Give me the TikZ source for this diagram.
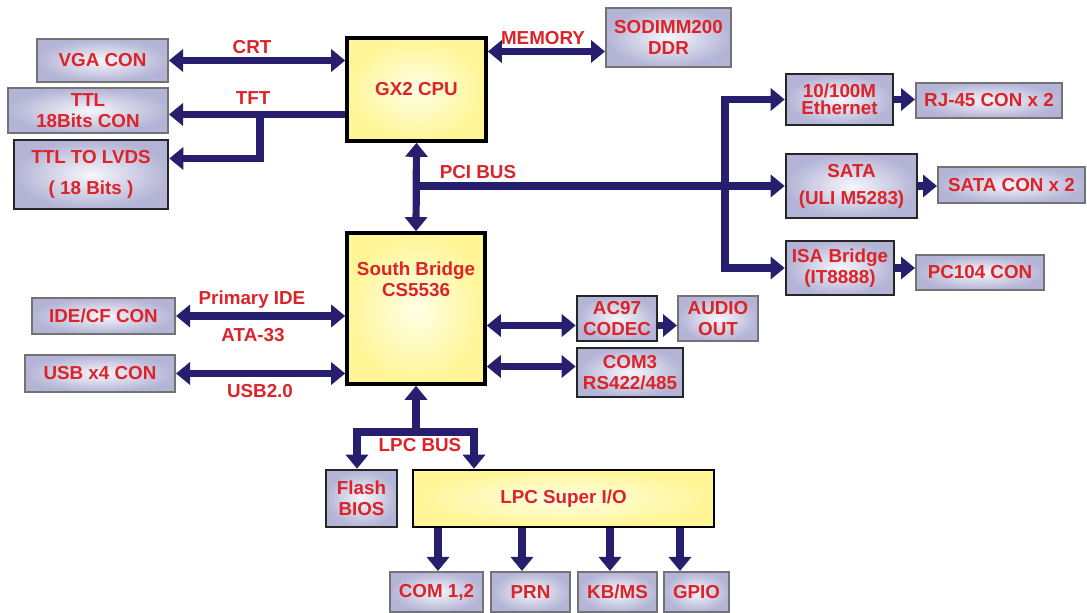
\documentclass[tikz,border=0pt]{standalone}
\usepackage{fontspec}
\setmainfont{Liberation Sans}
\usetikzlibrary{positioning,arrows.meta}
\definecolor{busblue}{RGB}{40,30,110}
\definecolor{txtred}{RGB}{220,35,40}
\definecolor{lav}{RGB}{180,180,214}
\definecolor{lavlight}{RGB}{246,246,252}
\definecolor{chipyel}{RGB}{255,245,150}
\definecolor{chiplight}{RGB}{255,255,230}
\tikzset{
  con/.style={draw=black!55,line width=1pt,inner color=lavlight,outer color=lav,inner sep=0pt,align=center,text=txtred},
  dev/.style={con,draw=black!85,line width=1.3pt},
  chip/.style={draw=black,line width=1.8pt,inner color=chiplight,outer color=chipyel,inner sep=0pt,align=center,text=txtred},
  bus/.style={draw=busblue,line width=3.6pt},
  lbl/.style={text=txtred,inner sep=1pt,align=center},
}
\begin{document}
\begin{tikzpicture}[x=0.5pt,y=-0.5pt,>={Triangle[width=11pt,length=7pt]},
   font=\fontsize{9.4}{10.5}\selectfont\bfseries]
  \useasboundingbox (0,0) rectangle (1087,613);
  % north side
  \node[chip,minimum width=69.5pt,minimum height=51.5pt] (cpu) at (416.5,89.5) {GX2 CPU};
  \node[con,minimum width=62.5pt,minimum height=29.5pt] (sodimm) at (668.5,37.5) {SODIMM200\\DDR};
  \node[con,minimum width=65.5pt,minimum height=21.5pt] (vga) at (102.5,60.5) {VGA CON};
  \node[con,minimum width=80pt,minimum height=22.5pt] (ttl) at (88,110.5) {TTL\\18Bits CON};
  \node[dev,minimum width=77pt,minimum height=34.5pt] (lvds) at (91,174.5) {TTL TO LVDS\\[5pt]( 18 Bits )};
  % south bridge
  \node[chip,minimum width=69pt,minimum height=75.5pt] (sb) at (416,308.5) {};
  \node[lbl,below=14pt of sb.north] (sbtxt) {South Bridge\\CS5536};
  \node[con,minimum width=71.5pt,minimum height=18pt] (ide) at (103.5,316) {IDE/CF CON};
  \node[con,minimum width=75pt,minimum height=18.5pt] (usb) at (100,373.5) {USB x4 CON};
  \node[dev,minimum width=40pt,minimum height=22.5pt] (ac97) at (617,318.5) {AC97\\CODEC};
  \node[con,minimum width=40pt,minimum height=22.5pt] (audio) at (718,318.5) {AUDIO\\OUT};
  \node[dev,minimum width=53pt,minimum height=24.5pt] (com3) at (630,372.5) {COM3\\RS422/485};
  % pci devices
  \node[dev,minimum width=53.5pt,minimum height=25.5pt] (eth) at (839.5,99.5) {10/100M\\[-2pt]Ethernet};
  \node[con,minimum width=73pt,minimum height=17.5pt] (rj) at (989,100.5) {RJ-45 CON x 2};
  \node[dev,minimum width=65.5pt,minimum height=32pt] (sata) at (851.5,186) {SATA\\[3pt](ULI M5283)};
  \node[con,minimum width=73.5pt,minimum height=18pt] (satacon) at (1011.5,185) {SATA CON x 2};
  \node[dev,minimum width=54pt,minimum height=27pt] (isa) at (840,268) {ISA Bridge\\(IT8888)};
  \node[con,minimum width=64pt,minimum height=17.5pt] (pc104) at (980,272.5) {PC104 CON};
  % lpc
  \node[dev,minimum width=35.5pt,minimum height=28.5pt] (flash) at (361.5,498.5) {Flash\\BIOS};
  \node[chip,line width=1.3pt,minimum width=150.5pt,minimum height=28.5pt] (sio) at (563.5,498.5) {LPC Super I/O};
  \node[con,minimum width=46.5pt,minimum height=20pt] (com12) at (436.5,592) {COM 1,2};
  \node[con,minimum width=39.5pt,minimum height=20pt] (prn) at (530.5,592) {PRN};
  \node[con,minimum width=39.5pt,minimum height=20pt] (kbms) at (617.5,592) {KB/MS};
  \node[con,minimum width=32.5pt,minimum height=20pt] (gpio) at (696.5,592) {GPIO};
  % bus labels
  \node[lbl] (crt) at (252,47) {CRT};
  \node[lbl] (tft) at (253,98) {TFT};
  \node[lbl] (memory) at (543,38) {MEMORY};
  \node[lbl] (pci) at (478,172) {PCI BUS};
  \node[lbl] (pide) at (252,300) {Primary IDE};
  \node[lbl] (ata) at (253,335) {ATA-33};
  \node[lbl] (usb20) at (260,391) {USB2.0};
  \node[lbl] (lpc) at (420,445) {LPC BUS};
  % connectors
  \draw[bus,<->] (vga.east) -- (vga.east -| cpu.west);
  \coordinate (tftj) at (260,114.5);
  \draw[bus,->] (tftj -| cpu.west) -- (tftj -| ttl.east);
  \draw[bus,->] (tftj) |- ([yshift=8pt]lvds.east);
  \coordinate (mem) at ([yshift=-7pt]sodimm.west);
  \draw[bus,<->] (mem -| cpu.east) -- (mem);
  \coordinate (pcij) at (416,186);
  \coordinate (brj) at (725,186);
  \draw[bus,<->] (cpu.south) -- (sb.north);
  \draw[bus,->] (pcij) -- (sata.west);
  \draw[bus,->] (brj) |- (eth.west);
  \draw[bus,->] (brj) |- (isa.west);
  \draw[bus,->] (eth.east) -- (eth.east -| rj.west);
  \draw[bus,->] (sata.east) -- (sata.east -| satacon.west);
  \draw[bus,->] (isa.east) -- (isa.east -| pc104.west);
  \draw[bus,<->] (ide.east) -- (ide.east -| sb.west);
  \draw[bus,<->] (usb.east) -- (usb.east -| sb.west);
  \coordinate (acin) at ([yshift=-3.5pt]ac97.west);
  \draw[bus,<->] (acin -| sb.east) -- (acin);
  \draw[bus,->] (acin -| ac97.east) -- (acin -| audio.west);
  \coordinate (comin) at ([yshift=3pt]com3.west);
  \draw[bus,<->] (comin -| sb.east) -- (comin);
  \coordinate (lpcj) at (416,432);
  \coordinate (lpcl) at (357,432);
  \coordinate (lpcr) at (474,432);
  \draw[bus,->] (lpcj) -- (sb.south);
  \draw[bus,->] (lpcj) -| (lpcl |- flash.north);
  \draw[bus,->] (lpcj) -| (lpcr |- sio.north);
  \foreach \n/\s in {com12/0.75pt,prn/-4.25pt,kbms/-3.75pt,gpio/-8.25pt} {
    \coordinate (d-\n) at ([xshift=\s]\n.north);
    \draw[bus,->] (d-\n |- sio.south) -- (d-\n);
  }
\end{tikzpicture}
\end{document}
